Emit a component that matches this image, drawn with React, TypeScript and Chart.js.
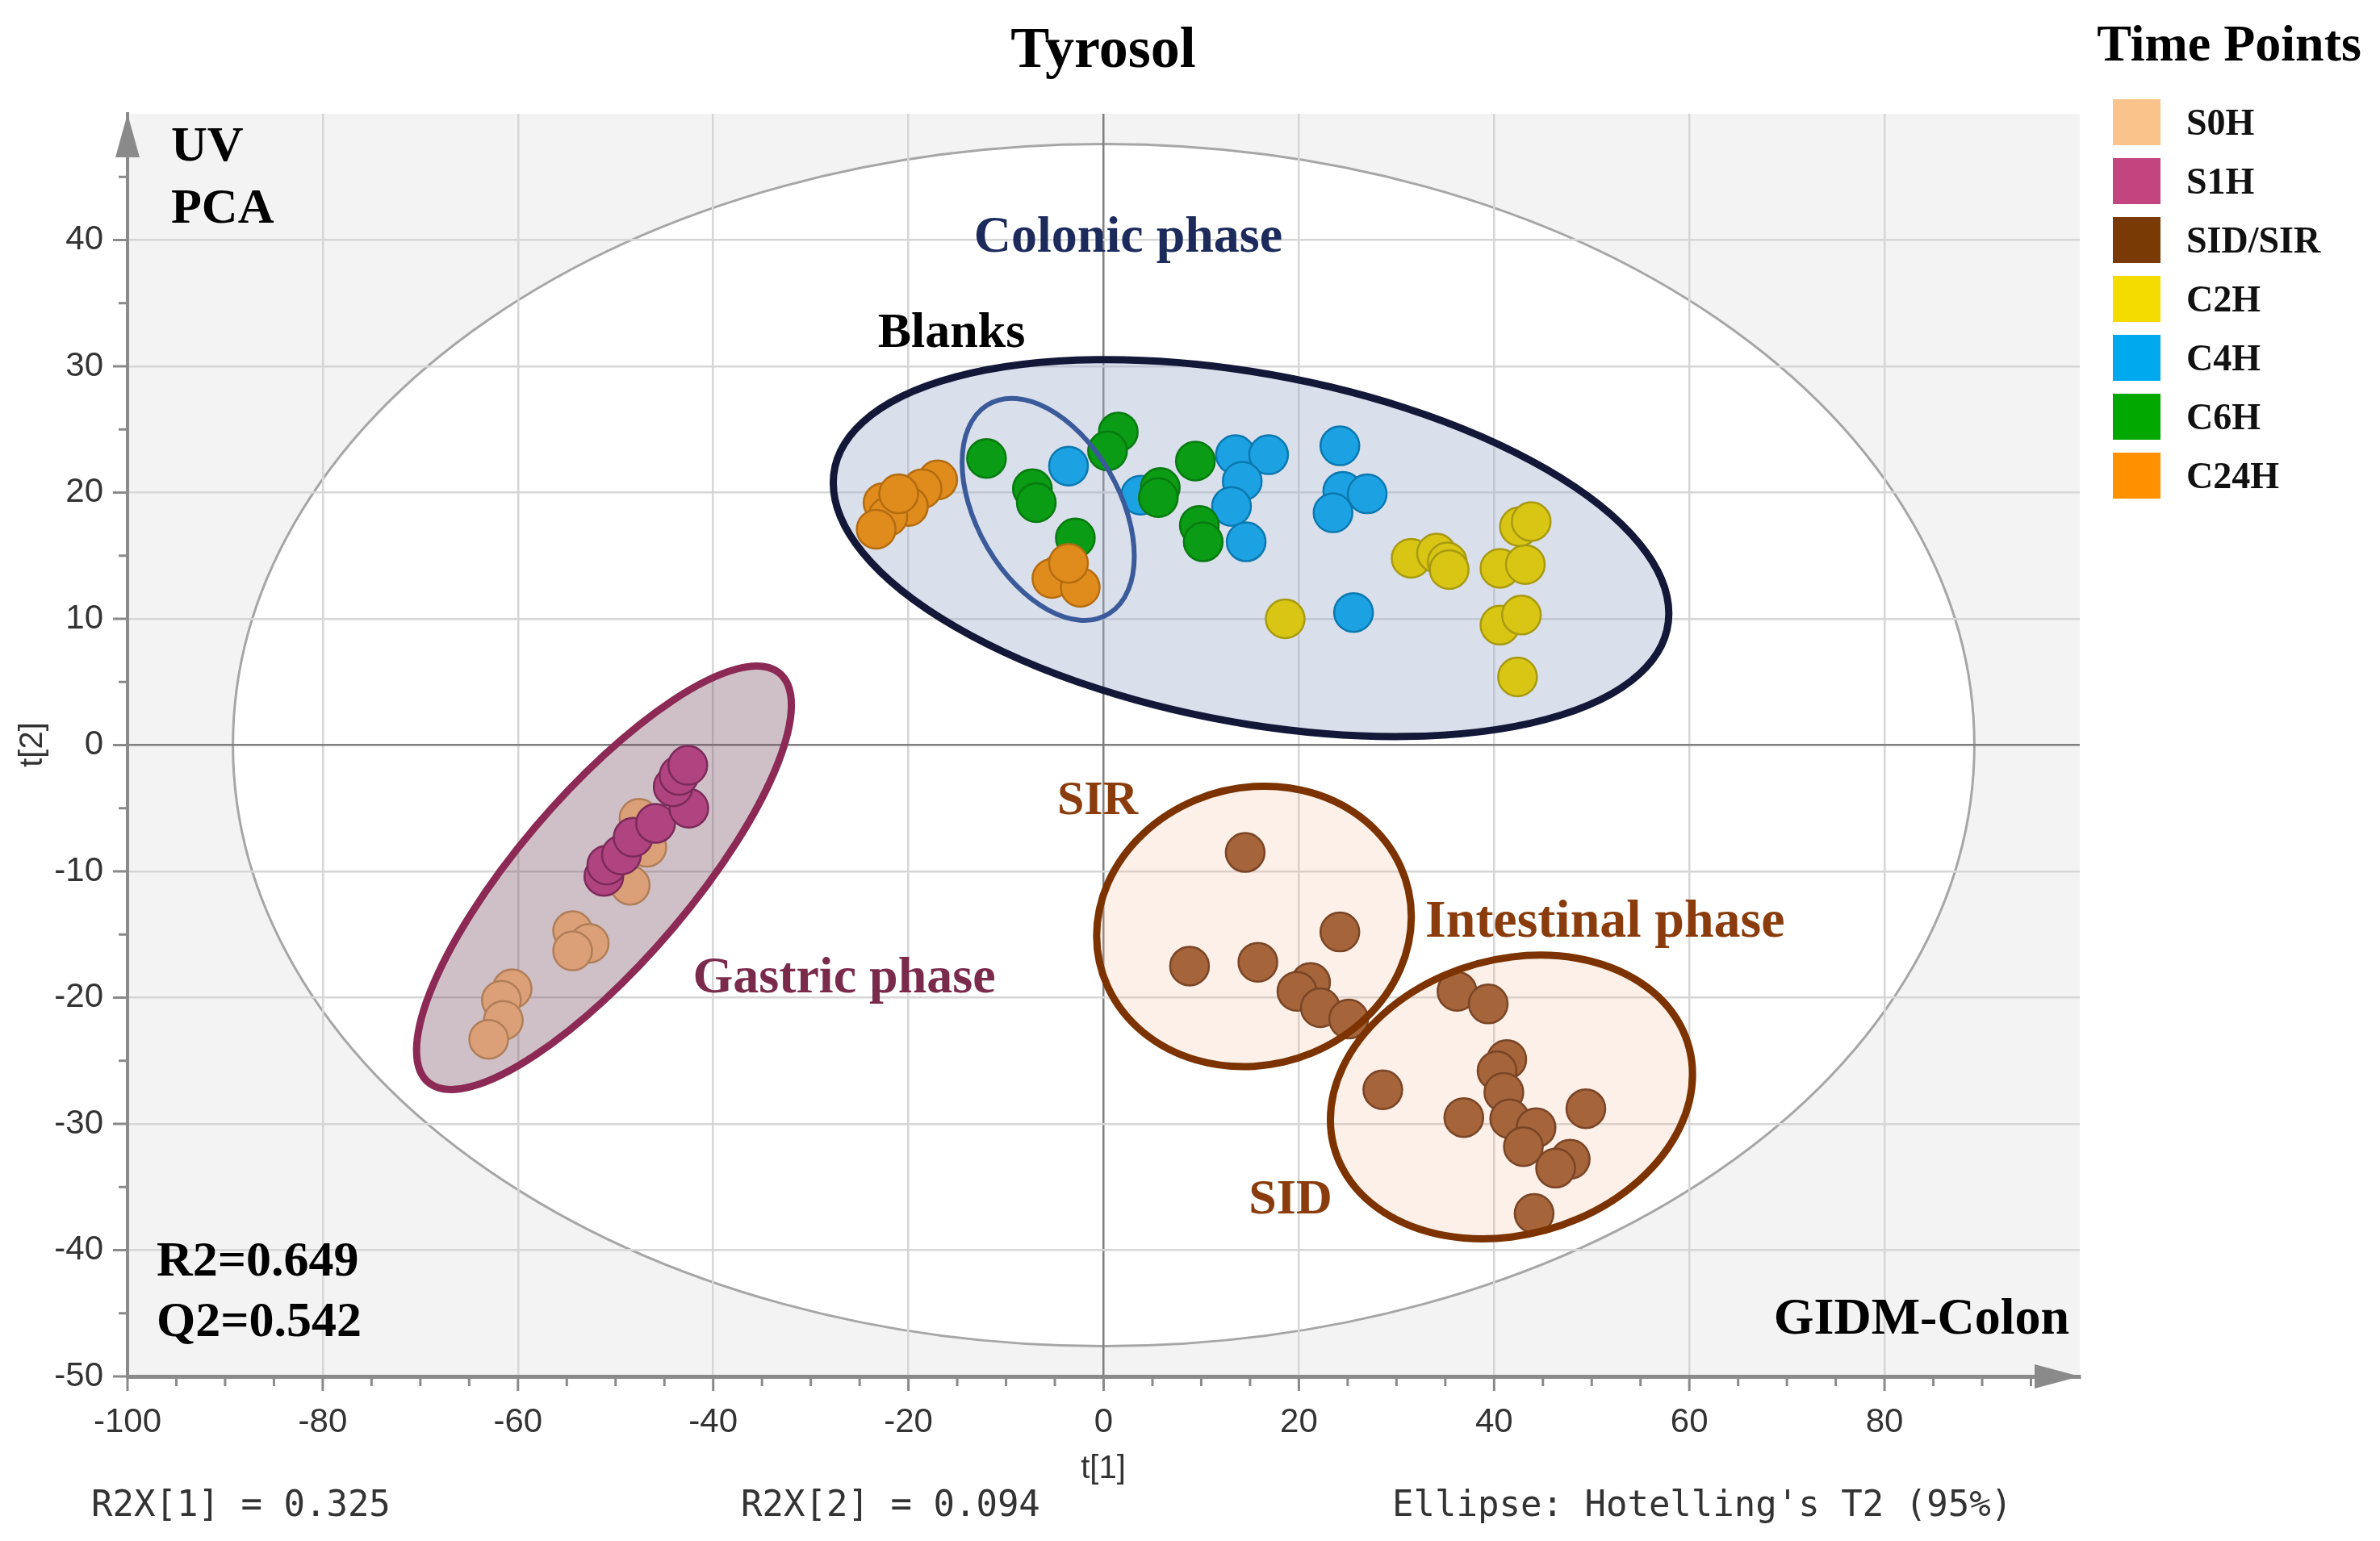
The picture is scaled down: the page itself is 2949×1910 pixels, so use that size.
import React, { useEffect, useRef } from 'react';
import { Chart, registerables } from 'chart.js';

Chart.register(...registerables);

// ---- Data (t[1], t[2] scores) ----
const S0H: number[][] = [[-47.6, -5.8], [-46.8, -8.1], [-48.5, -11.1], [-54.4, -14.7], [-52.7, -15.7], [-54.4, -16.3], [-60.6, -19.3], [-61.7, -20.2], [-61.5, -21.8], [-63.0, -23.3]];
const S1H: number[][] = [[-51.2, -10.4], [-50.9, -9.5], [-49.4, -8.7], [-48.2, -7.3], [-45.9, -6.2], [-42.5, -5.0], [-44.1, -3.3], [-43.5, -2.4], [-42.6, -1.6]];
const SIR: number[][] = [[14.5, -8.5], [24.2, -14.8], [8.8, -17.5], [15.8, -17.2], [21.2, -18.8], [19.8, -19.5], [22.2, -20.8], [25.1, -21.7]];
const SID: number[][] = [[28.6, -27.3], [36.2, -19.5], [39.4, -20.5], [41.3, -24.9], [40.3, -25.8], [41.0, -27.5], [36.9, -29.5], [41.6, -29.6], [44.3, -30.3], [43.0, -31.8], [49.4, -28.8], [47.8, -32.8], [46.3, -33.5], [44.1, -37.1]];
const C2H: number[][] = [[18.6, 10.0], [31.5, 14.8], [34.1, 15.2], [35.2, 14.5], [35.4, 13.9], [40.6, 14.0], [43.2, 14.3], [42.6, 17.3], [43.8, 17.7], [40.6, 9.5], [42.8, 10.3], [42.4, 5.4]];
const C4H: number[][] = [[-3.6, 22.1], [3.8, 19.8], [13.5, 23.0], [16.9, 23.0], [14.2, 20.9], [13.1, 18.9], [14.6, 16.1], [24.2, 23.7], [24.5, 20.1], [27.0, 19.9], [23.5, 18.4], [25.6, 10.5]];
const C6H: number[][] = [[-12.0, 22.7], [-7.3, 20.3], [-6.9, 19.2], [-2.9, 16.4], [1.5, 24.8], [0.4, 23.3], [9.4, 22.5], [5.8, 20.4], [5.6, 19.6], [9.8, 17.4], [10.2, 16.1]];
const C24H: number[][] = [[-17.0, 21.0], [-18.6, 20.3], [-20.0, 18.9], [-22.6, 19.2], [-22.1, 18.1], [-21.0, 19.9], [-23.3, 17.1], [-4.4, 13.6], [-5.3, 13.2], [-2.4, 12.5], [-3.6, 14.4]];

const legendLabels = ['S0H', 'S1H', 'SID/SIR', 'C2H', 'C4H', 'C6H', 'C24H'];

// Ellipses in data units: [centerX, centerY, u_x, u_y, v_x, v_y]
const hotellingEllipse = [0, 0, 89.2, 0, 0, 47.6];
const colonicEllipse = [15.1, 15.6, 42.8, -5.17, 0, 14.0];
const blanksEllipse = [-5.68, 18.67, 8.82, -3.71, 0, 7.97];
const gastricEllipse = [-51.19, -10.51, 19.2, 13.67, 0, 9.71];
const sirEllipse = [15.4, -14.36, 16.12, 0.75, 0, 11.08];
const sidEllipse = [41.78, -27.87, 18.55, 1.79, 0, 11.09];

const xTickValues = [-100, -80, -60, -40, -20, 0, 20, 40, 60, 80];
const yTickValues = [-50, -40, -30, -20, -10, 0, 10, 20, 30, 40];

// ---- Styles ----
const pointFill = ['#dca078', '#b04480', '#a5643a', '#d9c614', '#1ca2e2', '#0a9c14', '#e08c1c'];
const pointBorder = ['#b07e58', '#7c2a5a', '#7a4526', '#a89a10', '#0b78b0', '#077a10', '#b46c10'];
const swatch = ['#fbc38c', '#c2457f', '#7a3a06', '#f5dc00', '#00a9ee', '#00a800', '#ff9100'];

const SERIF = '"Liberation Serif", "Times New Roman", serif';
const SANS = '"Liberation Sans", Arial, sans-serif';
const MONO = '"DejaVu Sans Mono", monospace';

function ellipsePath(chart: any, e: number[]) {
  const xs = chart.scales.x;
  const ys = chart.scales.y;
  const cx = xs.getPixelForValue(e[0]);
  const cy = ys.getPixelForValue(e[1]);
  const ux = xs.getPixelForValue(e[0] + e[2]) - cx;
  const uy = ys.getPixelForValue(e[1] + e[3]) - cy;
  const vx = xs.getPixelForValue(e[0] + e[4]) - cx;
  const vy = ys.getPixelForValue(e[1] + e[5]) - cy;
  const ctx = chart.ctx as CanvasRenderingContext2D;
  ctx.beginPath();
  ctx.save();
  ctx.transform(ux, uy, vx, vy, cx, cy);
  ctx.arc(0, 0, 1, 0, Math.PI * 2);
  ctx.restore();
}

function fillEllipse(chart: any, e: number[], color: string) {
  const ctx = chart.ctx as CanvasRenderingContext2D;
  ctx.save();
  ellipsePath(chart, e);
  ctx.fillStyle = color;
  ctx.fill();
  ctx.restore();
}

function strokeEllipse(chart: any, e: number[], color: string, lw: number) {
  const ctx = chart.ctx as CanvasRenderingContext2D;
  ctx.save();
  ellipsePath(chart, e);
  ctx.strokeStyle = color;
  ctx.lineWidth = lw;
  ctx.stroke();
  ctx.restore();
}

function text(ctx: CanvasRenderingContext2D, s: string, x: number, y: number, font: string, color: string, align: CanvasTextAlign = 'center') {
  ctx.save();
  ctx.font = font;
  ctx.fillStyle = color;
  ctx.textAlign = align;
  ctx.textBaseline = 'middle';
  ctx.fillText(s, x, y);
  ctx.restore();
}

const decorPlugin = {
  id: 'decor',
  beforeDraw(chart: any) {
    const ctx = chart.ctx as CanvasRenderingContext2D;
    const a = chart.chartArea;
    ctx.save();
    ctx.fillStyle = '#f3f3f3';
    ctx.fillRect(a.left, a.top, a.right - a.left, a.bottom - a.top);
    ctx.restore();
    fillEllipse(chart, hotellingEllipse, '#ffffff');
    strokeEllipse(chart, hotellingEllipse, '#a6a6a6', 3);
  },
  beforeDatasetsDraw(chart: any) {
    fillEllipse(chart, colonicEllipse, 'rgba(160,175,205,0.4)');
    fillEllipse(chart, gastricEllipse, 'rgba(130,90,110,0.38)');
    fillEllipse(chart, sirEllipse, 'rgba(240,180,140,0.2)');
    fillEllipse(chart, sidEllipse, 'rgba(240,180,140,0.2)');
  },
  afterDatasetsDraw(chart: any) {
    strokeEllipse(chart, colonicEllipse, '#141838', 9);
    strokeEllipse(chart, blanksEllipse, '#3a5a9a', 6);
    strokeEllipse(chart, gastricEllipse, '#8c2a55', 9);
    strokeEllipse(chart, sirEllipse, '#7c3300', 9);
    strokeEllipse(chart, sidEllipse, '#7c3300', 9);
  },
  afterDraw(chart: any) {
    const ctx = chart.ctx as CanvasRenderingContext2D;
    const a = chart.chartArea;
    const xs = chart.scales.x;
    const ys = chart.scales.y;
    const axisColor = '#8a8a8a';

    // tick marks
    ctx.save();
    ctx.strokeStyle = axisColor;
    ctx.lineWidth = 3;
    for (let v = -100; v < 100; v += 5) {
      const px = xs.getPixelForValue(v);
      const len = v % 20 === 0 ? 18 : 12;
      ctx.beginPath();
      ctx.moveTo(px, a.bottom);
      ctx.lineTo(px, a.bottom + len);
      ctx.stroke();
    }
    for (let v = -50; v < 50; v += 5) {
      const py = ys.getPixelForValue(v);
      const len = v % 10 === 0 ? 18 : 11;
      ctx.beginPath();
      ctx.moveTo(a.left, py);
      ctx.lineTo(a.left - len, py);
      ctx.stroke();
    }
    // arrows
    ctx.fillStyle = axisColor;
    ctx.beginPath();
    ctx.moveTo(a.left, a.top);
    ctx.lineTo(a.left - 15, a.top + 54);
    ctx.lineTo(a.left + 15, a.top + 54);
    ctx.closePath();
    ctx.fill();
    ctx.beginPath();
    ctx.moveTo(a.right, a.bottom);
    ctx.lineTo(a.right - 56, a.bottom - 15);
    ctx.lineTo(a.right - 56, a.bottom + 15);
    ctx.closePath();
    ctx.fill();
    ctx.restore();

    // title
    text(ctx, 'Tyrosol', 1367, 64, `bold 72px ${SERIF}`, '#000');
    // annotations
    text(ctx, 'UV', 212, 183, `bold 62px ${SERIF}`, '#000', 'left');
    text(ctx, 'PCA', 212, 260, `bold 62px ${SERIF}`, '#000', 'left');
    text(ctx, 'Colonic phase', 1398, 295, `bold 64px ${SERIF}`, '#1c2b5c');
    text(ctx, 'Blanks', 1179, 414, `bold 62px ${SERIF}`, '#000');
    text(ctx, 'Gastric phase', 1046, 1213, `bold 64px ${SERIF}`, '#7a2b4c');
    text(ctx, 'SIR', 1360, 993, `bold 60px ${SERIF}`, '#8a3c0c');
    text(ctx, 'Intestinal phase', 1766, 1144, `bold 66px ${SERIF}`, '#8a3c0c', 'left');
    text(ctx, 'SID', 1599, 1488, `bold 62px ${SERIF}`, '#8a3c0c');
    text(ctx, 'R2=0.649', 194, 1565, `bold 62px ${SERIF}`, '#000', 'left');
    text(ctx, 'Q2=0.542', 194, 1640, `bold 62px ${SERIF}`, '#000', 'left');
    text(ctx, 'GIDM-Colon', 2564, 1636, `bold 64px ${SERIF}`, '#000', 'right');

    // axis titles
    text(ctx, 't[1]', 1367, 1821, `40px ${SANS}`, '#333');
    ctx.save();
    ctx.translate(41, 923);
    ctx.rotate(-Math.PI / 2);
    text(ctx, 't[2]', 0, 0, `40px ${SANS}`, '#333');
    ctx.restore();

    // footer
    text(ctx, 'R2X[1] = 0.325', 113, 1868, `44px ${MONO}`, '#333', 'left');
    text(ctx, 'R2X[2] = 0.094', 918, 1868, `44px ${MONO}`, '#333', 'left');
    text(ctx, "Ellipse: Hotelling's T2 (95%)", 1725, 1868, `44px ${MONO}`, '#333', 'left');

    // legend
    text(ctx, 'Time Points', 2762, 58, `bold 64px ${SERIF}`, '#000');
    legendLabels.forEach((lab, i) => {
      const cy = 152 + i * 73;
      ctx.save();
      ctx.fillStyle = swatch[i];
      ctx.fillRect(2618, cy - 29, 59, 57);
      ctx.restore();
      text(ctx, lab, 2709, cy + 3, `bold 46px ${SERIF}`, '#111', 'left');
    });
  },
};

function toPts(arr: number[][]) {
  return arr.map((p) => ({ x: p[0], y: p[1] }));
}

export default function App() {
  const ref = useRef<HTMLCanvasElement | null>(null);
  useEffect(() => {
    if (!ref.current) return;
    const groups = [S0H, S1H, SIR.concat(SID), C2H, C4H, C6H, C24H];
    const orders = [7, 6, 5, 4, 3, 2, 1];
    const chart = new Chart(ref.current, {
      type: 'scatter',
      data: {
        datasets: groups.map((g, i) => ({
          label: legendLabels[i],
          data: toPts(g),
          backgroundColor: pointFill[i],
          borderColor: pointBorder[i],
          borderWidth: 2.5,
          pointRadius: 24,
          pointHoverRadius: 24,
          order: orders[i],
        })),
      },
      options: {
        responsive: false,
        devicePixelRatio: 1,
        animation: false,
        events: [],
        layout: { padding: { left: 8, right: 372, top: 141, bottom: 0 } },
        plugins: { legend: { display: false }, tooltip: { enabled: false }, title: { display: false } },
        scales: {
          x: {
            type: 'linear',
            min: -100,
            max: 100,
            afterFit: (s: any) => { s.height = 204; },
            afterBuildTicks: (s: any) => {
              const t = [];
              for (let v = -100; v <= 100; v += 20) t.push({ value: v });
              s.ticks = t;
            },
            ticks: {
              autoSkip: false,
              maxRotation: 0,
              padding: 32,
              font: { family: SANS, size: 42 },
              color: '#333',
              callback: (v: any) => (xTickValues.includes(Number(v)) ? String(v) : ''),
            },
            grid: {
              drawTicks: false,
              color: (c: any) => {
                const v = c.tick ? c.tick.value : NaN;
                if (v === 0) return '#7f7f7f';
                if (v === -100 || v === 100) return 'rgba(0,0,0,0)';
                return '#d6d6d6';
              },
              lineWidth: 2.5,
            },
            border: { display: true, color: '#8a8a8a', width: 5 },
          },
          y: {
            type: 'linear',
            min: -50,
            max: 50,
            afterFit: (s: any) => { s.width = 150; },
            afterBuildTicks: (s: any) => {
              const t = [];
              for (let v = -50; v <= 50; v += 10) t.push({ value: v });
              s.ticks = t;
            },
            ticks: {
              autoSkip: false,
              padding: 30,
              font: { family: SANS, size: 42 },
              color: '#333',
              callback: (v: any) => (yTickValues.includes(Number(v)) ? String(v) : ''),
            },
            grid: {
              drawTicks: false,
              color: (c: any) => {
                const v = c.tick ? c.tick.value : NaN;
                if (v === 0) return '#7f7f7f';
                if (v === -50 || v === 50) return 'rgba(0,0,0,0)';
                return '#d6d6d6';
              },
              lineWidth: 2.5,
            },
            border: { display: true, color: '#8a8a8a', width: 4 },
          },
        },
      },
      plugins: [decorPlugin],
    } as any);
    return () => chart.destroy();
  }, []);
  return (
    <div style={{ position: 'fixed', left: 0, top: 0, width: 2949, height: 1910, background: '#fff' }}>
      <canvas ref={ref} width={2949} height={1910} style={{ width: 2949, height: 1910, display: 'block' }} />
    </div>
  );
}
